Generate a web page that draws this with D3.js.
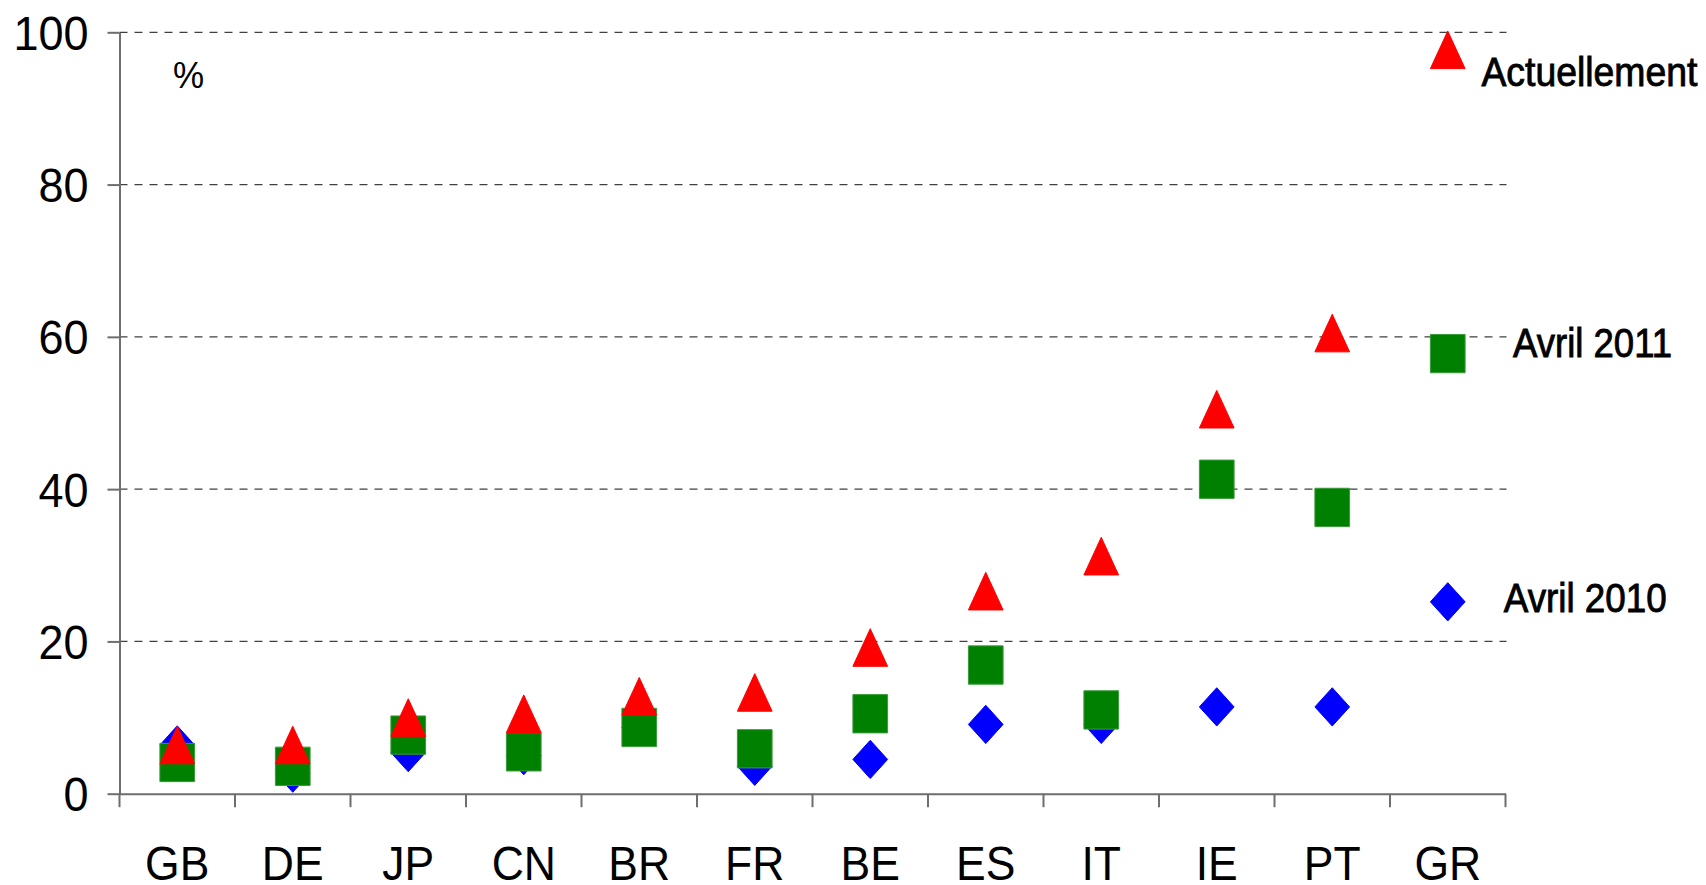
<!DOCTYPE html>
<html>
<head>
<meta charset="utf-8">
<script src="https://cdn.jsdelivr.net/npm/d3@7"></script>
<style>
  html, body { margin: 0; padding: 0; background: #fff; }
  svg { display: block; }
</style>
</head>
<body>
<svg id="chart" width="1706" height="885"></svg>
<script>
// ---- Data ----
const categories = ["GB", "DE", "JP", "CN", "BR", "FR", "BE", "ES", "IT", "IE", "PT", "GR"];
const avril2010 = [6.4, 2.7, 5.4, 5.0, 8.7, 3.6, 4.5, 9.1, 9.1, 11.4, 11.4, 25.2];
const avril2011 = [4.1, 3.6, 7.7, 5.5, 8.7, 5.9, 10.5, 16.9, 11.0, 41.3, 37.6, 57.8];
const actuellement = [6.4, 6.4, 10.0, 10.5, 12.8, 13.3, 19.2, 26.6, 31.2, 50.5, 60.5, 97.7];
const seriesNames = ["Avril 2010", "Avril 2011", "Actuellement"];
const yTicks = [0, 20, 40, 60, 80, 100];
const unitLabel = "%";

// ---- Layout ----
const svg = d3.select("#chart");
const X0 = 119.5, X1 = 1505.5, Y0 = 793.7, Y1 = 32.3;
const x = d3.scaleBand().domain(categories).range([X0, X1]).padding(0);
const y = d3.scaleLinear().domain([0, 100]).range([Y0, Y1]);
const axisColor = "#6e6e6e";
const axisFont = "'Liberation Sans', Arial, sans-serif";
const labelFont = "'Liberation Sans', Arial, sans-serif";

// Gridlines (dashed)
svg.append("g").selectAll("line")
  .data(yTicks.filter(t => t > 0))
  .join("line")
  .attr("x1", X0).attr("x2", X1 + 1)
  .attr("y1", d => y(d)).attr("y2", d => y(d))
  .attr("stroke", "#404040").attr("stroke-width", 1.3)
  .attr("stroke-dasharray", "8,7");

// Y axis
const yAxis = svg.append("g")
  .attr("transform", `translate(${X0},0)`)
  .call(d3.axisLeft(y).tickValues(yTicks).tickSize(12).tickSizeOuter(0).tickFormat(d3.format("d")));
yAxis.select(".domain").attr("stroke", axisColor).attr("stroke-width", 2);
yAxis.selectAll(".tick line").attr("stroke", axisColor).attr("stroke-width", 2);
yAxis.selectAll(".tick text")
  .attr("x", 0).attr("y", 0).attr("dy", null)
  .attr("transform", "translate(-31,17) scale(1,1.06)")
  .attr("fill", "#000")
  .style("font-family", axisFont).style("font-size", "45px")
  .attr("text-anchor", "end");

// X axis
const xAxis = svg.append("g")
  .attr("transform", `translate(0,${Y0})`)
  .call(d3.axisBottom(x).tickSize(0).tickSizeOuter(0));
xAxis.select(".domain").attr("stroke", axisColor).attr("stroke-width", 2);
xAxis.selectAll(".tick text")
  .attr("y", 0).attr("dy", null)
  .attr("transform", "translate(0,86.5) scale(1,1.1)")
  .attr("fill", "#000")
  .style("font-family", axisFont).style("font-size", "44.5px");
// category boundary ticks
const bounds = categories.map(c => x(c)).concat([X1]);
svg.append("g").selectAll("line")
  .data(bounds)
  .join("line")
  .attr("x1", d => d).attr("x2", d => d)
  .attr("y1", Y0).attr("y2", Y0 + 13.5)
  .attr("stroke", axisColor).attr("stroke-width", 2);

// Unit label
svg.append("text")
  .attr("transform", "translate(173,88) scale(1,1.05)")
  .style("font-family", axisFont).style("font-size", "35px")
  .attr("fill", "#000")
  .text(unitLabel);

// ---- Markers ----
const MW = 34.7, MH = 38.3;
function diamondPath(w, h) {
  return `M0,${-h/2}L${w/2},0L0,${h/2}L${-w/2},0Z`;
}
function squarePath(w, h) {
  return `M${-w/2},${-h/2}H${w/2}V${h/2}H${-w/2}Z`;
}
function trianglePath(w, h) {
  return `M0,${-h/2}L${w/2},${h/2}L${-w/2},${h/2}Z`;
}
const series = [
  { name: seriesNames[0], values: avril2010, color: "#0000FF", stroke: "#0000FF", path: diamondPath(MW, MH),
    labelDx: 56, labelDy: 10.3, labelW: 163 },
  { name: seriesNames[1], values: avril2011, color: "#008000", stroke: "#3a9a3a", path: squarePath(MW, MH),
    labelDx: 65.3, labelDy: 3.2, labelW: 159 },
  { name: seriesNames[2], values: actuellement, color: "#FF0000", stroke: "#FF0000", path: trianglePath(MW, 37.6),
    labelDx: 33.7, labelDy: 36.5, labelW: 216 }
];

series.forEach(s => {
  svg.append("g").selectAll("path")
    .data(categories.map((c, i) => ({ c, v: s.values[i] })))
    .join("path")
    .attr("d", s.path)
    .attr("transform", d => `translate(${x(d.c) + x.bandwidth() / 2},${y(d.v)})`)
    .attr("fill", s.color)
    .attr("stroke", s.stroke)
    .attr("stroke-width", 1)
    .attr("stroke-linejoin", "round");
});

// Series labels next to the last category (GR)
const last = categories.length - 1;
series.forEach(s => {
  const cx = x(categories[last]) + x.bandwidth() / 2;
  const cy = y(s.values[last]);
  svg.append("text")
    .attr("x", cx + s.labelDx)
    .attr("y", cy + s.labelDy)
    .attr("textLength", s.labelW)
    .attr("lengthAdjust", "spacingAndGlyphs")
    .style("font-family", labelFont)
    .style("font-size", "41px")
    .attr("fill", "#000")
    .attr("stroke", "#000")
    .attr("stroke-width", 0.9)
    .text(s.name);
});
</script>
</body>
</html>
